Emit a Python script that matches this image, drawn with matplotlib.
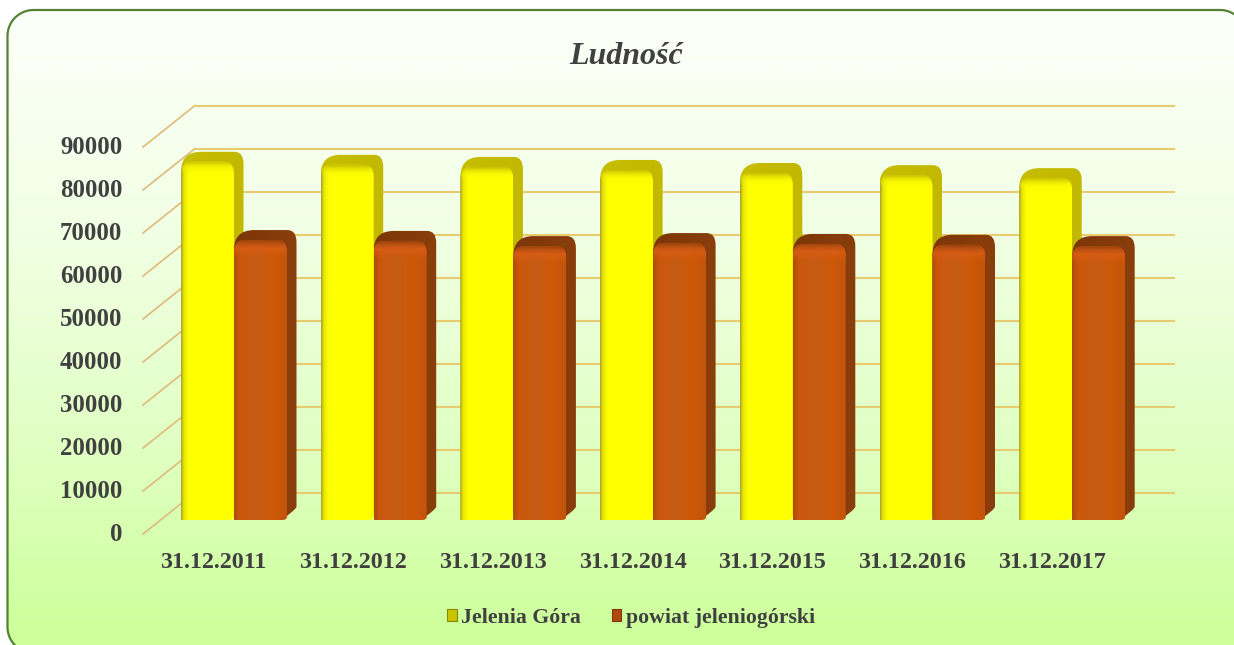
import matplotlib
matplotlib.use("Agg")
import matplotlib.pyplot as plt
import matplotlib.transforms as mtrans
import numpy as np
from matplotlib.path import Path
from matplotlib.patches import PathPatch, Patch
from matplotlib.colors import LinearSegmentedColormap

daty = ['31.12.2011', '31.12.2012', '31.12.2013', '31.12.2014',
        '31.12.2015', '31.12.2016', '31.12.2017']
jelenia_gora = [83300, 82600, 82100, 81400, 80700, 80200, 79500]
powiat = [65100, 64900, 63700, 64400, 64200, 64000, 63700]
ticks_y = list(range(0, 90001, 10000))

W, H = 1234, 645
plt.rcParams['font.family'] = ['Liberation Serif', 'DejaVu Serif']
TXT = '#404040'
GRID = '#E8CB70'

fig = plt.figure(figsize=(W / 100, H / 100), dpi=100, facecolor='white')

def zaokraglony(x0, y0, x1, y1, r):
    # lamana zamiast krzywych, bo ramka wychodzi poza obrazek
    pkt = []
    for cx, cy, a0 in [(x0 + r, y0 + r, 180), (x1 - r, y0 + r, 270),
                       (x1 - r, y1 - r, 0), (x0 + r, y1 - r, 90)]:
        t = np.radians(np.linspace(a0, a0 + 90, 24))
        pkt.extend(zip(cx + r * np.cos(t), cy + r * np.sin(t)))
    pkt.append(pkt[0])
    return Path(pkt)

# tlo z gradientem w zaokraglonej ramce
bg = fig.add_axes([0, 0, 1, 1])
bg.axis('off')
cm_bg = LinearSegmentedColormap.from_list('bg', ['#FDFFFA', '#F2FFE6', '#E2FFC6', '#CCFF99'])
im = bg.imshow(np.linspace(0, 1, 256).reshape(-1, 1), cmap=cm_bg, aspect='auto',
               extent=(0, W, H, 0))
ramka = PathPatch(zaokraglony(7.5, 10, 1246, 653, 26), fc='none', ec='#548235', lw=1.6, zorder=5)
bg.add_patch(ramka)
im.set_clip_path(ramka)
bg.set_xlim(0, W)
bg.set_ylim(H, 0)

# os: plaszczyzna przednia wykresu
L, R, B, T = 143, 1174, 534, 105
ax = fig.add_axes([L / W, 1 - B / H, (R - L) / W, (B - T) / H])
ax.patch.set_visible(False)
for s in ax.spines.values():
    s.set_visible(False)

PX_X = 139.7      # px na kategorie
PX_Y = 43 / 10000  # px na jednostke

def dx(p):
    return p / PX_X

def dy(p):
    return p / PX_Y

x_lim = ((L - 213.5) / PX_X, (R - 213.5) / PX_X)
y_lim = (0, (B - T) / PX_Y)

# siatka: tylna sciana + skosy po lewej
x_back = x_lim[0] + dx(52)
for v in ticks_y:
    ax.plot([x_lim[0], x_back], [v, v + dy(41.5)], color='#DDBB7A', lw=1.2, zorder=1, clip_on=False)
    ax.plot([x_back, x_lim[1]], [v + dy(41.5), v + dy(41.5)], color=GRID, lw=1.5, zorder=1, clip_on=False)

base = dy(14)

def bok(x0, x1, top):
    # caly obrys slupka razem z glebokoscia
    ox, oy = dx(9.5), dy(10)
    v = [(x0, base), (x0, top - dy(10)), (x0, top + oy), (x0 + dx(20), top + oy),
         (x1 + ox - dx(9), top + oy), (x1 + ox, top + oy), (x1 + ox, top + oy - dy(12)),
         (x1 + ox, base + oy + dy(3)), (x1 + ox - dx(2), base + oy - dy(1)), (x1 - dx(6), base),
         (x0, base), (x0, base)]
    c = [Path.MOVETO, Path.LINETO, Path.CURVE3, Path.CURVE3,
         Path.LINETO, Path.CURVE3, Path.CURVE3,
         Path.LINETO, Path.CURVE3, Path.CURVE3, Path.LINETO, Path.CLOSEPOLY]
    return Path(v, c)

def przod(x0, x1, top):
    rx, ry = dx(10), dy(12)
    v = [(x0, base), (x0, top - ry), (x0, top), (x0 + rx, top),
         (x1 - rx, top), (x1, top), (x1, top - ry),
         (x1, base + dy(3)), (x1, base), (x1 - dx(5), base), (x0, base), (x0, base)]
    c = [Path.MOVETO, Path.LINETO, Path.CURVE3, Path.CURVE3,
         Path.LINETO, Path.CURVE3, Path.CURVE3,
         Path.LINETO, Path.CURVE3, Path.CURVE3, Path.LINETO, Path.CLOSEPOLY]
    return Path(v, c)

def wypelnij(path, cmap, x0, x1, y0, y1, z, pion=False):
    if pion:
        g = np.linspace(0, 1, 128).reshape(-1, 1)
    else:
        g = np.linspace(0, 1, 128).reshape(1, -1)
    i = ax.imshow(g, cmap=cmap, aspect='auto', extent=(x0, x1, y0, y1), zorder=z,
                  origin='lower', interpolation='bilinear')
    i.set_clip_path(path, transform=ax.transData)

cm_y_front = LinearSegmentedColormap.from_list('yf', [(0, '#A8A030'), (0.05, '#E4E400'), (0.14, '#FFFF00'), (1, '#FFFF00')])
cm_y_bok = LinearSegmentedColormap.from_list('yb', [(0, '#C6BE00'), (1, '#C2B800')])
cm_o_front = LinearSegmentedColormap.from_list('of', [(0, '#B04C0A'), (0.12, '#CB580C'), (0.45, '#C65C14'), (0.75, '#CE5808'), (1, '#C2540C')])
cm_o_bok = LinearSegmentedColormap.from_list('ob', [(0, '#7C3608'), (1, '#8A3E0C')])
# przejscie przodu w wierzch slupka
cm_y_gora = LinearSegmentedColormap.from_list('yg', [(0, '#FFFF0000'), (0.5, '#E8E40070'), (1, '#C6BE00FF')])
cm_o_gora = LinearSegmentedColormap.from_list('og', [(0, '#D8601000'), (0.55, '#DC5E18C0'), (1, '#9A440CFF')])

SZER = 53 / PX_X
PRZES = 20.5 / PX_X
for i, (a, b) in enumerate(zip(jelenia_gora, powiat)):
    k = i + PRZES
    z = 3 + i * 6
    ya, yb = a + base, b + base
    # Jelenia Gora
    wypelnij(bok(k - SZER, k, ya), cm_y_bok, k - SZER, k + dx(10), base, ya + dy(11), z)
    wypelnij(przod(k - SZER, k, ya), cm_y_front, k - SZER, k, base, ya, z + 1)
    wypelnij(przod(k - SZER, k, ya), cm_y_gora, k - SZER, k, ya - dy(12), ya, z + 2, pion=True)
    # powiat
    wypelnij(bok(k, k + SZER, yb), cm_o_bok, k, k + SZER + dx(10), base, yb + dy(11), z + 3)
    wypelnij(przod(k, k + SZER, yb), cm_o_front, k, k + SZER, base, yb, z + 4)
    wypelnij(przod(k, k + SZER, yb), cm_o_gora, k, k + SZER, yb - dy(18), yb, z + 5, pion=True)

ax.set_xlim(*x_lim)
ax.set_ylim(*y_lim)
ax.set_xticks(range(len(daty)))
ax.set_xticklabels(daty, fontsize=17.4, fontweight='bold', color=TXT)
ax.set_yticks(ticks_y)
ax.tick_params(axis='x', length=0, pad=13)
ax.tick_params(axis='y', length=0, pad=15, labelsize=17.8, labelcolor=TXT)
przes = mtrans.ScaledTranslation(0, 1.5 / 72, fig.dpi_scale_trans)
for t in ax.get_yticklabels():
    t.set_fontweight('bold')
    t.set_transform(t.get_transform() + przes)

fig.text(626 / W, 1 - 56 / H, 'Ludność', fontsize=23, fontstyle='italic', fontweight='bold',
         color=TXT, ha='center', va='center')

uchwyty = [Patch(fc='#C8C400', ec='#8C8600', lw=0.8, label='Jelenia Góra'),
           Patch(fc='#B04A0C', ec='#7C3608', lw=0.8, label='powiat jeleniogórski')]
fig.legend(handles=uchwyty, loc='center', bbox_to_anchor=(631 / W, 1 - 618 / H), ncol=2,
           frameon=False, handlelength=0.45, handleheight=0.45, handletextpad=0.2,
           columnspacing=1.4, prop={'size': 15.65, 'weight': 'bold'}, labelcolor=TXT)

fig.savefig('out.png', dpi=100)
